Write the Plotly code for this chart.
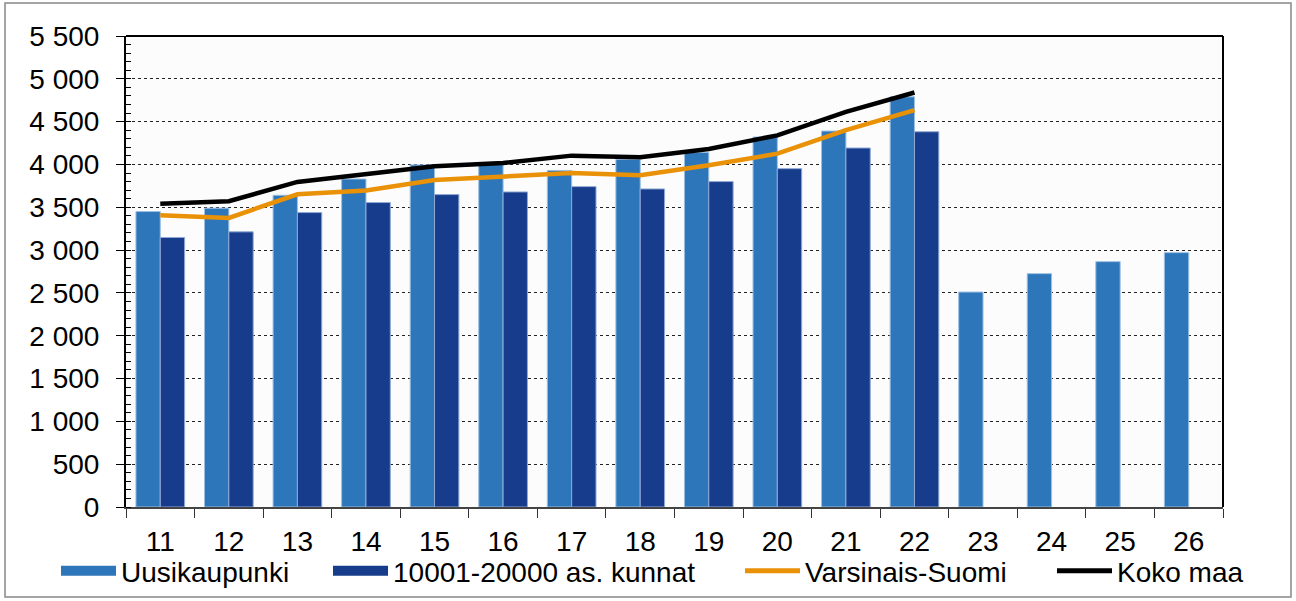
import plotly.graph_objects as go

categories = ["11", "12", "13", "14", "15", "16", "17", "18", "19", "20", "21", "22", "23", "24", "25", "26"]
uusikaupunki = [3450, 3490, 3640, 3830, 3995, 4005, 3930, 4060, 4140, 4320, 4390, 4790, 2510, 2725, 2865, 2970]
kunnat = [3147, 3213, 3438, 3555, 3648, 3679, 3741, 3714, 3800, 3951, 4192, 4382]
line_cats = categories[:12]
varsinais_suomi = [3407, 3376, 3652, 3695, 3819, 3858, 3900, 3873, 3990, 4126, 4402, 4635]
koko_maa = [3540, 3570, 3796, 3889, 3978, 4017, 4103, 4083, 4181, 4340, 4615, 4840]
y_ticks = list(range(0, 5501, 500))

FONT = "Liberation Sans, Arial, sans-serif"
C_LIGHT, C_DARK, C_ORANGE = "#2E76BA", "#173C8B", "#E99107"

L, R, T, B = 126, 73, 36, 94
W, H = 1296, 601
pw, ph = W - L - R, H - T - B

fig = go.Figure()
fig.add_trace(go.Bar(x=categories, y=uusikaupunki, name="Uusikaupunki", showlegend=False,
                     marker=dict(color=C_LIGHT, line=dict(color="#9CBFE3", width=1))))
fig.add_trace(go.Bar(x=line_cats, y=kunnat, name="10001-20000 as. kunnat", showlegend=False,
                     marker=dict(color=C_DARK, line=dict(color="#8FA8D6", width=1))))
fig.add_trace(go.Scatter(x=line_cats, y=varsinais_suomi, name="Varsinais-Suomi", mode="lines",
                         showlegend=False, line=dict(color=C_ORANGE, width=4.5)))
fig.add_trace(go.Scatter(x=line_cats, y=koko_maa, name="Koko maa", mode="lines",
                         showlegend=False, line=dict(color="#000000", width=4.5)))
# legend entries (one legend per entry to match spacing)
legend_items = [("Uusikaupunki", C_LIGHT, 14, "legend", 56),
                ("10001-20000 as. kunnat", C_DARK, 14, "legend2", 328),
                ("Varsinais-Suomi", C_ORANGE, 5, "legend3", 740),
                ("Koko maa", "#000000", 5, "legend4", 1052)]
legend_layout = {}
for name, col, lw, lg, px in legend_items:
    fig.add_trace(go.Scatter(x=[None], y=[None], name=name, mode="lines", legend=lg,
                             line=dict(color=col, width=lw)))
    legend_layout[lg] = dict(orientation="h", x=(px - L) / pw, xanchor="left",
                             y=-0.083, yanchor="top", font=dict(size=28), itemwidth=55,
                             bgcolor="rgba(0,0,0,0)", borderwidth=0)

fig.update_layout(
    width=W, height=H,
    margin=dict(l=L, r=R, t=T, b=B, autoexpand=False),
    paper_bgcolor="white", plot_bgcolor="#FCFCFC",
    separators=", ",
    barmode="group", bargap=0.29, bargroupgap=0,
    font=dict(family=FONT, size=28, color="black"),
    showlegend=True,
    xaxis=dict(type="category", categoryorder="array", categoryarray=categories,
               tickson="boundaries", ticks="outside", ticklen=9, tickcolor="#333",
               showline=True, linecolor="#444", linewidth=2, mirror=False,
               showgrid=False, tickfont=dict(size=28), ticklabelstandoff=8),
    yaxis=dict(range=[0, 5500], tickvals=y_ticks, tickformat=",d",
               ticks="outside", ticklen=8, tickcolor="black",
               minor=dict(ticks="inside", dtick=100, ticklen=5, tickcolor="black", showgrid=False),
               showline=True, linecolor="black", linewidth=2,
               showgrid=True, gridcolor="#222", griddash="dot", gridwidth=1,
               zeroline=False, tickfont=dict(size=28), ticklabelstandoff=11),
    **legend_layout,
)

# plot frame (top and right edges)
fig.add_shape(type="line", xref="paper", yref="paper", x0=0, x1=1, y0=1, y1=1,
              line=dict(color="black", width=2))
fig.add_shape(type="line", xref="paper", yref="paper", x0=1, x1=1, y0=0, y1=1,
              line=dict(color="black", width=2))
# outer chart border
fig.add_shape(type="rect", xref="paper", yref="paper",
              x0=(5 - L) / pw, x1=(1291 - L) / pw, y0=-(597 - T - ph) / ph, y1=1 + (T - 3) / ph,
              line=dict(color="#888", width=1.5), layer="below")

fig.write_html("out.html", config={"displayModeBar": False},
               post_script="document.body.style.margin='0';")
